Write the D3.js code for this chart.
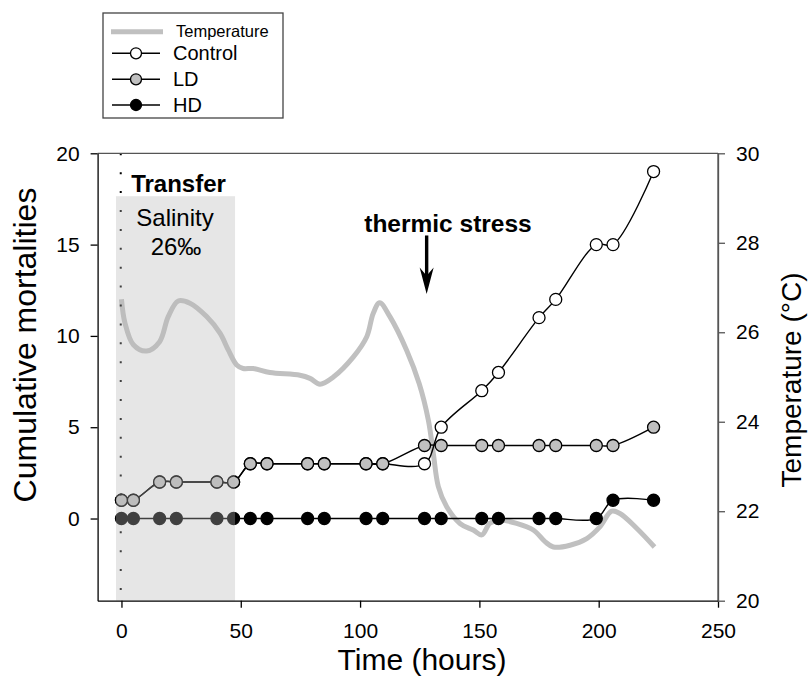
<!DOCTYPE html>
<html><head><meta charset="utf-8">
<script src="https://cdn.jsdelivr.net/npm/d3@7"></script>
<style>
html,body{margin:0;padding:0;background:#fff;}
svg{display:block;font-family:Arial,"Liberation Sans",sans-serif;}
</style></head>
<body>
<svg id="chart" width="808" height="680"></svg>
<script>
// ---- data ----
const times = [0, 5, 16, 23, 40, 47, 54, 61, 78, 85, 102.5, 109.5, 127, 134, 151, 158, 175, 182, 199, 206, 223];
const control = [1, 1, 2, 2, 2, 2, 3, 3, 3, 3, 3, 3, 3, 5, 7, 8, 11, 12, 15, 15, 19];
const ld      = [1, 1, 2, 2, 2, 2, 3, 3, 3, 3, 3, 3, 4, 4, 4, 4, 4, 4, 4, 4, 5];
const hd      = [0, 0, 0, 0, 0, 0, 0, 0, 0, 0, 0, 0, 0, 0, 0, 0, 0, 0, 0, 1, 1];
const tempTimes = [0, 1.5, 5, 10.5, 16, 19.6, 23.8, 28.7, 35.7, 41.3, 44.8, 48.3, 51, 55.2, 62.2, 74.8, 79, 83.2, 88.8, 97.2, 102.8, 105.5, 108.2, 112.5, 119.5, 124.8, 128.6, 130.7, 132.8, 136.3, 142, 147.4, 151, 154.4, 158.6, 165.6, 172.6, 177.5, 181, 188, 195, 200.5, 205.4, 208.9, 215.9, 223.4];
const tempValues = [26.74, 26.2, 25.72, 25.58, 25.79, 26.35, 26.7, 26.65, 26.35, 25.98, 25.6, 25.27, 25.19, 25.19, 25.1, 25.04, 24.97, 24.84, 25.0, 25.45, 25.9, 26.42, 26.66, 26.35, 25.6, 24.85, 24.04, 23.29, 22.55, 22.1, 21.72, 21.58, 21.47, 21.73, 21.8, 21.73, 21.58, 21.32, 21.2, 21.24, 21.39, 21.65, 22.0, 21.95, 21.62, 21.2];
const xTicks = [0, 50, 100, 150, 200, 250];
const yLeftTicks = [0, 5, 10, 15, 20];
const yRightTicks = [20, 22, 24, 26, 28, 30];
const transferPeriod = [-2.3, 47.6];
const seriesNames = ["Control", "LD", "HD"];

// ---- scales ----
const svg = d3.select("#chart");
const x = d3.scaleLinear().domain([-10, 250]).range([97.6, 718]);
const yL = d3.scaleLinear().domain([-4.5, 20]).range([600.7, 153.3]);
const yR = d3.scaleLinear().domain([20, 30]).range([600.7, 153.3]);
const X0 = x.range()[0], X1 = x.range()[1], Y0 = yL.range()[0], Y1 = yL.range()[1];

// ---- temperature ----
const tempData = tempTimes.map((t, i) => [t, tempValues[i]]);
svg.append("path").datum(tempData)
  .attr("fill", "none").attr("stroke", "#c0c0c0").attr("stroke-width", 5)
  .attr("stroke-linejoin", "round").attr("stroke-linecap", "butt")
  .attr("d", d3.line().x(d => x(d[0])).y(d => yR(d[1])).curve(d3.curveCatmullRom));

// ---- series ----
const series = [
  {name: "Control", vals: control, fill: "#ffffff"},
  {name: "LD", vals: ld, fill: "#c0c0c0"},
  {name: "HD", vals: hd, fill: "#000000"}
];
const lineGen = d3.line().x(d => x(d[0])).y(d => yL(d[1])).curve(d3.curveCatmullRom);
series.forEach(s => {
  const data = times.map((t, i) => [t, s.vals[i]]);
  const g = svg.append("g");
  g.append("path").datum(data).attr("fill", "none").attr("stroke", "#000").attr("stroke-width", 1.4).attr("d", lineGen);
  g.selectAll("circle").data(data).join("circle")
    .attr("cx", d => x(d[0])).attr("cy", d => yL(d[1])).attr("r", 6)
    .attr("fill", s.fill).attr("stroke", "#000").attr("stroke-width", 1.3);
});

// ---- dotted line at transfer ----
svg.append("line").attr("x1", x(-0.3)).attr("x2", x(-0.3)).attr("y1", Y1).attr("y2", Y0)
  .attr("stroke", "#000").attr("stroke-width", 2).attr("stroke-dasharray", "2,16.9");

// ---- shaded transfer period ----
svg.append("rect")
  .attr("x", x(transferPeriod[0])).attr("width", x(transferPeriod[1]) - x(transferPeriod[0]))
  .attr("y", yL(17.65)).attr("height", Y0 - yL(17.65))
  .attr("fill", "rgb(183,183,183)").attr("fill-opacity", 0.35);

// ---- frame & axes ----
svg.append("line").attr("x1", X0).attr("x2", X1).attr("y1", Y1).attr("y2", Y1).attr("stroke", "#555").attr("stroke-width", 1.3);
svg.append("line").attr("x1", X1).attr("x2", X1).attr("y1", Y1).attr("y2", Y0).attr("stroke", "#555").attr("stroke-width", 1.3);

const styleAxis = (g, color) => {
  g.select(".domain").attr("stroke", color).attr("stroke-width", 1.3);
  g.selectAll(".tick line").attr("stroke", color).attr("stroke-width", 1.3);
  g.selectAll(".tick text").attr("font-size", 21).attr("fill", "#000").attr("font-family", "Arial, 'Liberation Sans', sans-serif");
};
svg.append("g").attr("transform", `translate(0,${Y0})`)
  .call(d3.axisBottom(x).tickValues(xTicks).tickSize(7).tickSizeOuter(0).tickPadding(15).tickFormat(d3.format("d")))
  .call(g => styleAxis(g, "#000"));
svg.append("g").attr("transform", `translate(${X0},0)`)
  .call(d3.axisLeft(yL).tickValues(yLeftTicks).tickSize(7).tickSizeOuter(0).tickPadding(11).tickFormat(d3.format("d")))
  .call(g => styleAxis(g, "#000"));
svg.append("g").attr("transform", `translate(${X1},0)`)
  .call(d3.axisRight(yR).tickValues(yRightTicks).tickSize(7).tickSizeOuter(0).tickPadding(11).tickFormat(d3.format("d")))
  .call(g => styleAxis(g, "#555"));

// ---- axis titles ----
svg.append("text").attr("x", 422).attr("y", 670).attr("text-anchor", "middle").attr("font-size", 30).text("Time (hours)");
svg.append("text").attr("transform", "translate(36,345) rotate(-90)").attr("text-anchor", "middle").attr("font-size", 32).text("Cumulative mortalities");
svg.append("text").attr("transform", "translate(801,380) rotate(-90)").attr("text-anchor", "middle").attr("font-size", 28).text("Temperature (°C)");

// ---- annotations ----
svg.append("text").attr("x", 178.5).attr("y", 191.7).attr("text-anchor", "middle").attr("font-size", 24).attr("font-weight", "bold").text("Transfer");
svg.append("text").attr("x", 175).attr("y", 226).attr("text-anchor", "middle").attr("font-size", 24).text("Salinity");
svg.append("text").attr("x", 176).attr("y", 255).attr("text-anchor", "middle").attr("font-size", 24).text("26‰");
svg.append("text").attr("x", 448).attr("y", 231.7).attr("text-anchor", "middle").attr("font-size", 24.5).attr("font-weight", "bold").text("thermic stress");
const ax = x(127.9);
svg.append("line").attr("x1", ax).attr("x2", ax).attr("y1", yL(15.5)).attr("y2", yL(13)).attr("stroke", "#000").attr("stroke-width", 3.4);
svg.append("path").attr("fill", "#000")
  .attr("d", `M${ax - 7},${yL(13.75)} L${ax},${yL(12.3)} L${ax + 7},${yL(13.75)} L${ax},${yL(13.3)} Z`);

// ---- legend ----
const leg = svg.append("g");
leg.append("rect").attr("x", 103).attr("y", 13).attr("width", 180).attr("height", 105)
  .attr("fill", "#fff").attr("stroke", "#444").attr("stroke-width", 1.3);
leg.append("line").attr("x1", 111).attr("x2", 163).attr("y1", 31.7).attr("y2", 31.7).attr("stroke", "#c0c0c0").attr("stroke-width", 5);
leg.append("text").attr("x", 176).attr("y", 37).attr("font-size", 16.5).text("Temperature");
const legY = [53.3, 79.3, 105];
series.forEach((s, i) => {
  leg.append("line").attr("x1", 112).attr("x2", 160).attr("y1", legY[i]).attr("y2", legY[i]).attr("stroke", "#000").attr("stroke-width", 1.4);
  leg.append("circle").attr("cx", 136).attr("cy", legY[i]).attr("r", 5.5).attr("fill", s.fill).attr("stroke", "#000").attr("stroke-width", 1.3);
  leg.append("text").attr("x", 173).attr("y", legY[i] + 7).attr("font-size", 20).text(seriesNames[i]);
});
</script>
</body></html>
